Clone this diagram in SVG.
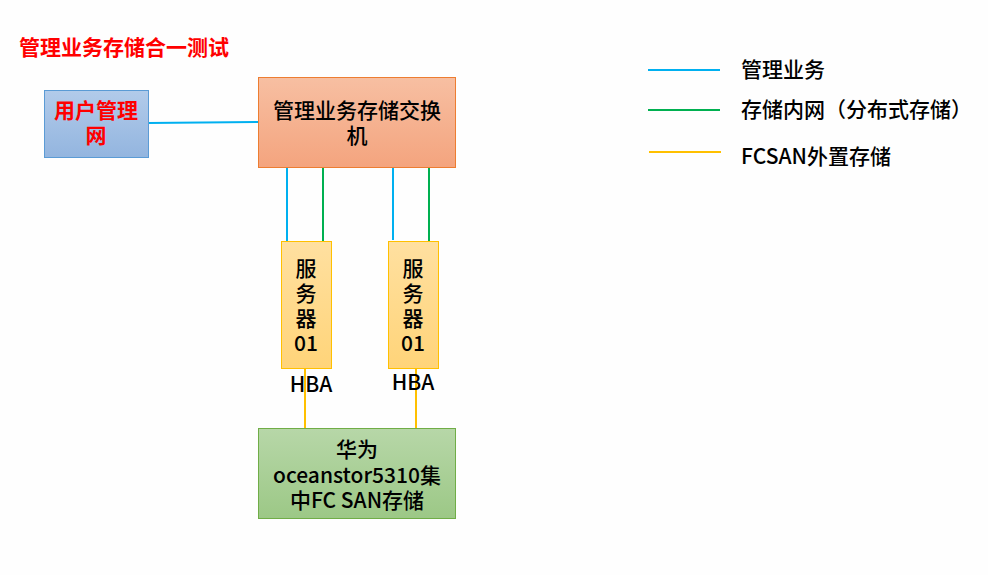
<svg xmlns="http://www.w3.org/2000/svg" width="988" height="575" viewBox="0 0 988 575">
<defs>
<linearGradient id="gBlue" x1="0" y1="0" x2="0" y2="1"><stop offset="0" stop-color="#b2cbea"/><stop offset="1" stop-color="#93b5df"/></linearGradient>
<linearGradient id="gOrange" x1="0" y1="0" x2="0" y2="1"><stop offset="0" stop-color="#f7bfa2"/><stop offset="1" stop-color="#f4a47e"/></linearGradient>
<linearGradient id="gYellow" x1="0" y1="0" x2="0" y2="1"><stop offset="0" stop-color="#ffe0a0"/><stop offset="1" stop-color="#ffd479"/></linearGradient>
<linearGradient id="gGreen" x1="0" y1="0" x2="0" y2="1"><stop offset="0" stop-color="#b7d7a8"/><stop offset="1" stop-color="#9cc886"/></linearGradient>
</defs>
<style>
text{font-family:"Noto Sans CJK SC","Noto Sans",sans-serif;font-size:21px;font-weight:500;fill:#000}
.c{text-anchor:middle}
.red{fill:#ff0000;font-weight:bold}
.b{stroke:#00b0f0;stroke-width:2;fill:none}
.g{stroke:#00b050;stroke-width:2;fill:none}
.y{stroke:#ffc000;stroke-width:2;fill:none}
</style>
<rect width="988" height="575" fill="#fefefe"/>
<text x="19" y="55" class="red">管理业务存储合一测试</text>
<g id="connectors">
<line class="b" x1="148" y1="123" x2="258" y2="122"/>
<line class="b" x1="287" y1="167" x2="287" y2="241"/>
<line class="g" x1="323" y1="167" x2="323" y2="241"/>
<line class="b" x1="393" y1="167" x2="393" y2="240"/>
<line class="g" x1="429" y1="167" x2="429" y2="241"/>
<line class="y" x1="305" y1="368" x2="305" y2="428"/>
<line class="y" x1="416" y1="368" x2="416" y2="428"/>
</g>
<g id="user-net">
<rect x="44.5" y="90.5" width="104" height="67" fill="url(#gBlue)" stroke="#5b9bd5"/>
<text x="96" y="118" class="c red">用户管理</text>
<text x="96" y="143" class="c red">网</text>
</g>
<g id="switch">
<rect x="258.5" y="77.5" width="197" height="90" fill="url(#gOrange)" stroke="#ed7d31"/>
<text x="357" y="118" class="c">管理业务存储交换</text>
<text x="357" y="143" class="c">机</text>
</g>
<g id="server1">
<rect x="281.5" y="241.5" width="50" height="127" fill="url(#gYellow)" stroke="#ffc000"/>
<text x="306" y="276" class="c">服</text>
<text x="306" y="301" class="c">务</text>
<text x="306" y="326" class="c">器</text>
<text x="306" y="351" class="c">01</text>
</g>
<g id="server2">
<rect x="388.5" y="241.5" width="50" height="127" fill="url(#gYellow)" stroke="#ffc000"/>
<text x="413" y="276" class="c">服</text>
<text x="413" y="301" class="c">务</text>
<text x="413" y="326" class="c">器</text>
<text x="413" y="351" class="c">01</text>
</g>
<text x="311" y="392" class="c">HBA</text>
<text x="413" y="390" class="c">HBA</text>
<g id="storage">
<rect x="258.5" y="428.5" width="197" height="90" fill="url(#gGreen)" stroke="#70ad47"/>
<text x="357" y="457" class="c">华为</text>
<text x="357" y="483" class="c">oceanstor5310集</text>
<text x="357" y="508" class="c">中FC SAN存储</text>
</g>
<g id="legend">
<line class="b" x1="648" y1="70" x2="720" y2="70"/>
<text x="741" y="77">管理业务</text>
<line class="g" x1="648" y1="110" x2="720" y2="110"/>
<text x="741" y="117">存储内网（分布式存储）</text>
<line class="y" x1="649" y1="152" x2="721" y2="152"/>
<text x="741" y="164">FCSAN外置存储</text>
</g>
</svg>
